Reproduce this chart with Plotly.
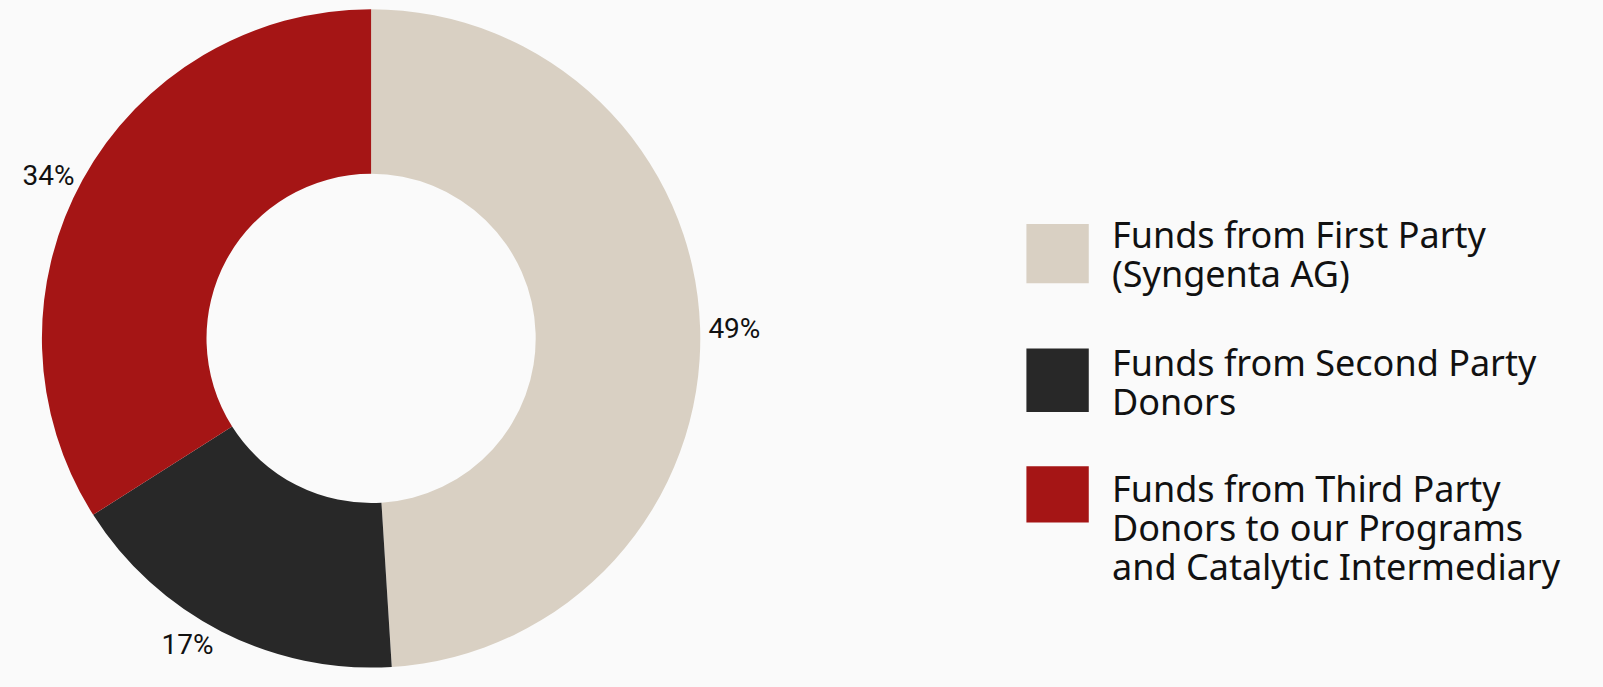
import plotly.graph_objects as go

W, H = 1603, 687
# reference measured in a view scaled to 1568 x 672
VW, VH = 1568, 672

labels = [
    "Funds from First Party (Syngenta AG)",
    "Funds from Second Party Donors",
    "Funds from Third Party Donors to our Programs and Catalytic Intermediary",
]
legend_lines = [
    ["Funds from First Party", "(Syngenta AG)"],
    ["Funds from Second Party", "Donors"],
    ["Funds from Third Party", "Donors to our Programs", "and Catalytic Intermediary"],
]
values = [49, 17, 34]
colors = ["#d9d0c3", "#282828", "#a51515"]

fig = go.Figure(go.Pie(
    labels=labels,
    values=values,
    hole=0.5,
    sort=False,
    direction="clockwise",
    rotation=0,
    marker=dict(colors=colors, line=dict(width=0)),
    textinfo="percent",
    texttemplate="%{percent:.0%}",
    textposition="outside",
    outsidetextfont=dict(family="Roboto", size=28, color="#111111"),
    domain=dict(x=[41 / VW, 685 / VW], y=[1 - 653 / VH, 1 - 9 / VH]),
    showlegend=False,
    automargin=False,
))

# custom legend (squares + text)
sq = [(219, 277), (341, 403), (456, 511)]
first_baseline = [245, 370, 493]
line_gap = 38.5
shapes = []
annotations = []
for (y0, y1), b0, lines, c in zip(sq, first_baseline, legend_lines, colors):
    shapes.append(dict(type="rect", xref="paper", yref="paper",
                       x0=1004 / VW, x1=1065 / VW, y0=1 - y1 / VH, y1=1 - y0 / VH,
                       fillcolor=c, line=dict(width=0)))
    for i, ln in enumerate(lines):
        yc = b0 + i * line_gap - 15.5
        annotations.append(dict(xref="paper", yref="paper", x=1086 / VW, y=1 - yc / VH,
                                xanchor="left", yanchor="middle", align="left",
                                text=ln, showarrow=False,
                                font=dict(family="Noto Sans", size=36, color="#111111")))

fig.update_layout(
    width=W, height=H,
    margin=dict(l=0, r=0, t=0, b=0),
    paper_bgcolor="#fafafa",
    plot_bgcolor="#fafafa",
    shapes=shapes,
    annotations=annotations,
)

fig.write_html("out.html", config={"displayModeBar": False},
               post_script="document.body.style.margin='0';document.body.style.overflow='hidden';")
